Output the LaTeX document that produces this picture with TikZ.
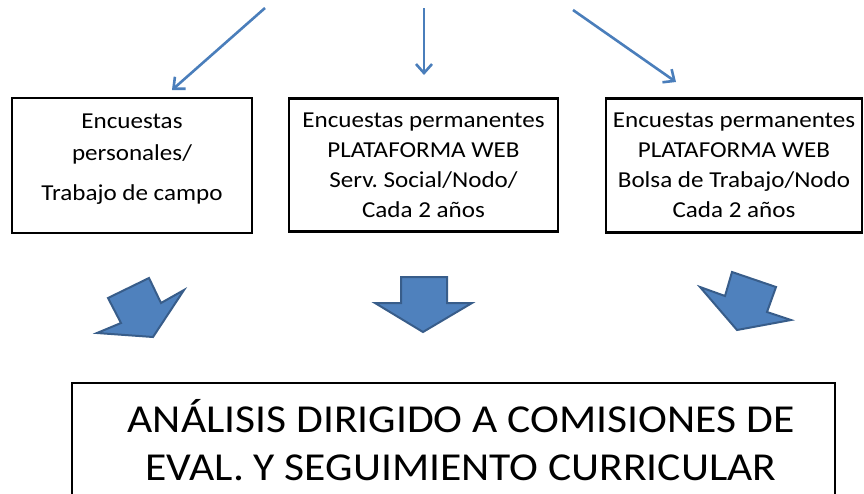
\documentclass[tikz,border=0pt]{standalone}
\usepackage{fontspec}
\setmainfont{Carlito}[FakeStretch=1.1]
\usetikzlibrary{arrows.meta}
\frenchspacing
\definecolor{linkblue}{HTML}{4A7EBB}
\definecolor{blockfill}{HTML}{4F81BD}
\definecolor{blockdraw}{HTML}{385D8A}
\tikzset{
  surveybox/.style={draw=black, line width=2.2pt, align=center, inner sep=0pt,
    font=\fontsize{22.8}{30}\selectfont},
  bigbox/.style={draw=black, line width=2.2pt, inner sep=0pt},
  bigtext/.style={align=center, inner sep=0pt, font=\fontsize{39.6}{48}\selectfont},
  linkarrow/.style={draw=linkblue, line width=2.6pt, -{Straight Barb[length=9pt,width=16pt]}},
  blockarrow/.style={fill=blockfill, draw=blockdraw, line width=2pt, line join=miter}
}
\begin{document}
\begin{tikzpicture}[x=1pt,y=-1pt]
\useasboundingbox (0,0) rectangle (864,493);
\clip (0,0) rectangle (864,493);
% top arrows
\coordinate (s1) at (265,8);
\coordinate (e1) at (172,90);
\coordinate (s2) at (424,8);
\coordinate (e2) at (424,75);
\coordinate (s3) at (573,10);
\coordinate (e3) at (676,82);
\draw[linkarrow] (s1) -- (e1);
\draw[linkarrow] (s2) -- (e2);
\draw[linkarrow] (s3) -- (e3);
% boxes
\node[surveybox, minimum width=240pt, minimum height=135pt, text depth=17pt] (b1) at (132,165.5)
  {Encuestas\\[2pt]personales/\\[10pt]Trabajo de campo};
\node[surveybox, minimum width=269pt, minimum height=133pt] (b2) at (423.5,165)
  {Encuestas permanentes\\PLATAFORMA WEB\\Serv. Social/Nodo/\\Cada 2 años};
\node[surveybox, minimum width=256pt, minimum height=134pt] (b3) at (734,165.5)
  {Encuestas permanentes\\PLATAFORMA WEB\\Bolsa de Trabajo/Nodo\\Cada 2 años};
% block arrows
\draw[blockarrow] (149,278) -- (161,303) -- (184,290) -- (153,337) -- (97,333) -- (121,323) -- (108,298) -- cycle;
\draw[blockarrow] (401,277) -- (447,277) -- (447,303) -- (472,303) -- (423,332) -- (375,303) -- (401,303) -- cycle;
\draw[blockarrow] (732,272) -- (776,287) -- (767,312) -- (791,320) -- (737,330) -- (700,287) -- (725,296) -- cycle;
% bottom box
\node[bigbox, minimum width=763pt, minimum height=116pt] (b4) at (453.5,441) {};
\node[bigtext] (t4) at (461,440)
  {ANÁLISIS DIRIGIDO A COMISIONES DE\\EVAL. Y SEGUIMIENTO CURRICULAR};
\end{tikzpicture}
\end{document}
